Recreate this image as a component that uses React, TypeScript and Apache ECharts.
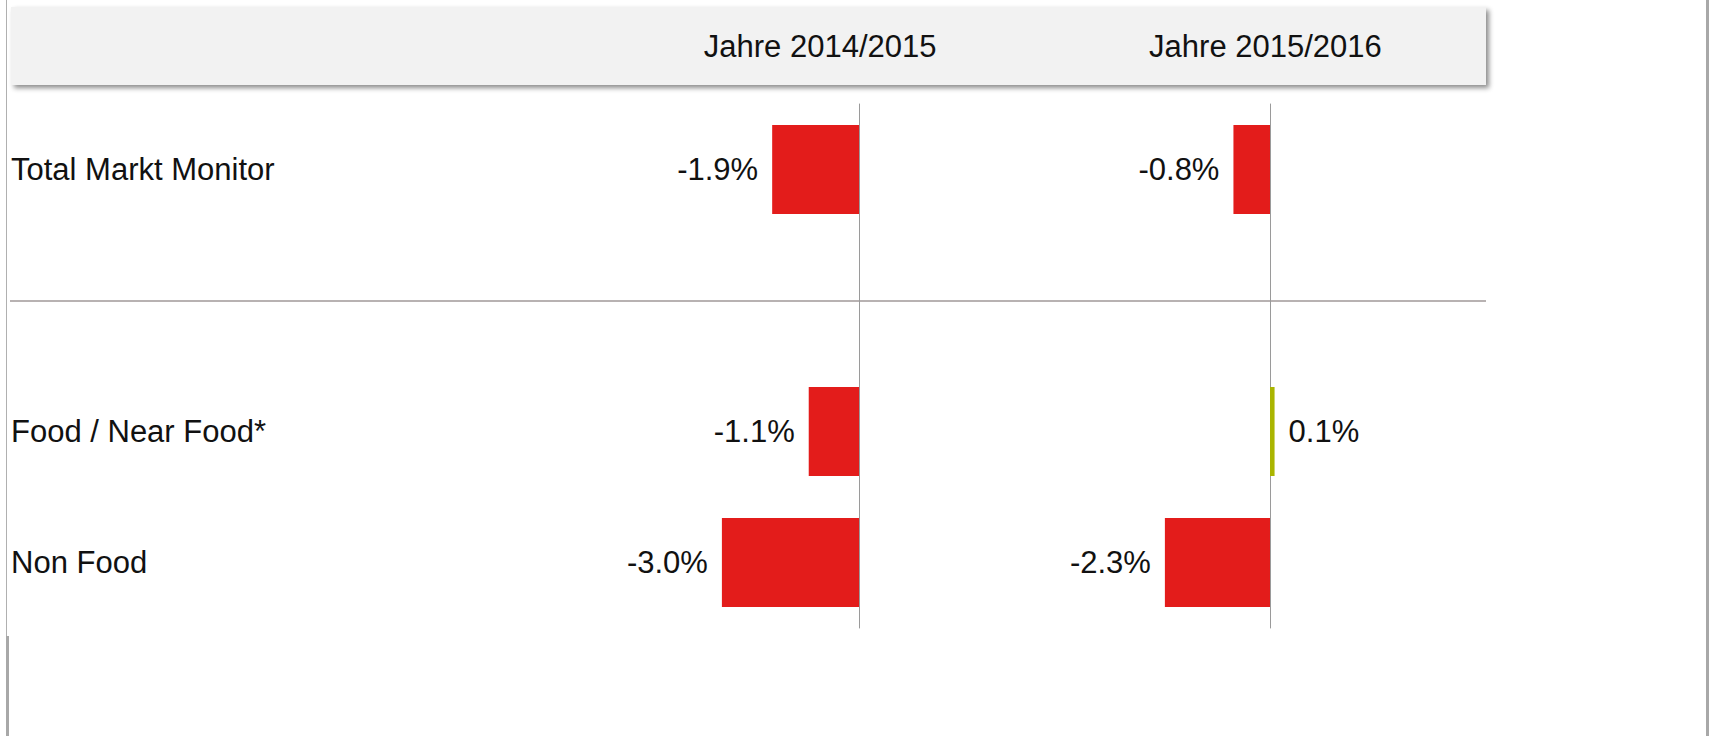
import React, { useEffect, useRef } from "react";
import * as echarts from "echarts";

const categories = ["Total Markt Monitor", "", "Food / Near Food*", "Non Food"];
const periods = ["Jahre 2014/2015", "Jahre 2015/2016"];
const values2014_2015 = [-1.9, null, -1.1, -3.0];
const values2015_2016 = [-0.8, null, 0.1, -2.3];

const FONT = "'Liberation Sans', Arial, sans-serif";
const RED = "#e31c1b";
const GREEN = "#aab500";

export default function App() {
  const ref = useRef<HTMLDivElement>(null);
  useEffect(() => {
    document.body.style.margin = "0";
    const chart = echarts.init(ref.current!, null, { renderer: "svg" });
    const pxPerUnit = 45.7;
    const gridTop = 104;
    const gridHeight = 524;
    const ranges = [
      { min: -5, max: 3.3, zero: 859 },
      { min: -3.5, max: 3.3, zero: 1270 },
    ];
    const grids = ranges.map((r) => ({
      left: r.zero + r.min * pxPerUnit,
      width: (r.max - r.min) * pxPerUnit,
      top: gridTop,
      height: gridHeight,
      containLabel: false,
      outerBoundsMode: "none",
    }));
    const seriesData = [values2014_2015, values2015_2016];
    const option: any = {
      animation: false,
      backgroundColor: "#ffffff",
      textStyle: { fontFamily: FONT },
      graphic: [
        {
          type: "rect",
          shape: { x: 11, y: 7, width: 1475, height: 78 },
          style: {
            fill: "#f2f2f2",
            shadowBlur: 5,
            shadowOffsetX: 3,
            shadowOffsetY: 3,
            shadowColor: "rgba(0,0,0,0.45)",
          },
          z: 0,
        },
        {
          type: "line",
          shape: { x1: 10, y1: 301, x2: 1486, y2: 301 },
          style: { stroke: "#b8b2b2", lineWidth: 2 },
        },
        {
          type: "line",
          shape: { x1: 6.5, y1: 0, x2: 6.5, y2: 636 },
          style: { stroke: "#b0b0b0", lineWidth: 1 },
        },
        {
          type: "line",
          shape: { x1: 7.5, y1: 636, x2: 7.5, y2: 736 },
          style: { stroke: "#a8a8a8", lineWidth: 3 },
        },
        {
          type: "line",
          shape: { x1: 1707.5, y1: 0, x2: 1707.5, y2: 736 },
          style: { stroke: "#a8a8a8", lineWidth: 3 },
        },
      ],
      grid: grids,
      xAxis: ranges.map((r, i) => ({
        type: "value",
        gridIndex: i,
        min: r.min,
        max: r.max,
        position: "top",
        name: periods[i],
        nameLocation: "middle",
        nameGap: 42,
        nameTextStyle: { fontSize: 31, color: "#111", fontFamily: FONT },
        axisLine: { show: false },
        axisTick: { show: false },
        axisLabel: { show: false },
        splitLine: { show: false },
      })),
      yAxis: ranges.map((r, i) => ({
        type: "category",
        gridIndex: i,
        data: categories,
        inverse: true,
        axisLine: { show: true, onZero: true, lineStyle: { color: "#9a9a9a", width: 1 } },
        axisTick: { show: false },
        splitLine: { show: false },
        axisLabel:
          i === 0
            ? {
                show: true,
                align: "left",
                margin: grids[i].left - 11,
                fontSize: 31,
                padding: [4, 0, 0, 0],
                color: "#111",
                fontFamily: FONT,
              }
            : { show: false },
      })),
      series: seriesData.map((d, i) => ({
        type: "bar",
        xAxisIndex: i,
        yAxisIndex: i,
        barWidth: 89,
        data: d.map((v) =>
          v === null
            ? null
            : {
                value: v,
                itemStyle: { color: v < 0 ? RED : GREEN },
                label: {
                  show: true,
                  position: v < 0 ? "left" : "right",
                  distance: 14,
                  formatter: (v as number).toFixed(1) + "%",
                  fontSize: 31,
                  color: "#111",
                  fontFamily: FONT,
                },
              }
        ),
      })),
    };
    chart.setOption(option);
    return () => chart.dispose();
  }, []);
  return <div ref={ref} style={{ width: 1710, height: 736 }} />;
}
